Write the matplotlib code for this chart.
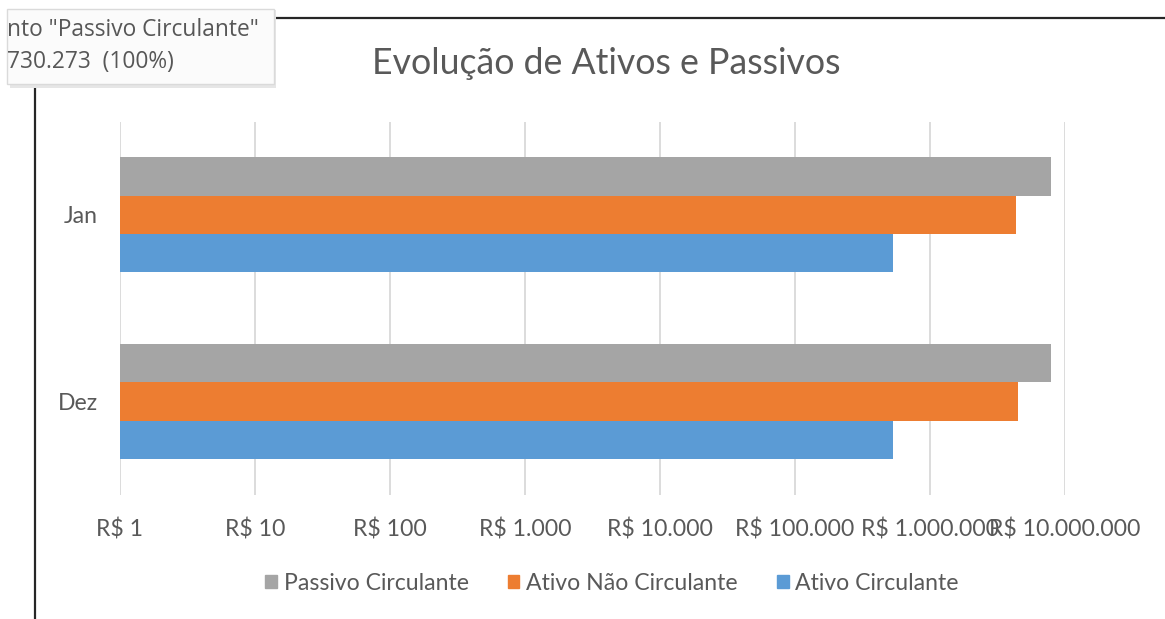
import matplotlib.pyplot as plt
import numpy as np
from matplotlib.patches import Rectangle, Patch
from matplotlib.lines import Line2D

# data
meses = ['Dez', 'Jan']  # bottom to top
ativo_circulante = [530000, 530000]
ativo_nao_circulante = [4450000, 4300000]
passivo_circulante = [7900000, 7900000]

ticks = [1, 10, 100, 1000, 10000, 100000, 1000000, 10000000]
tick_labels = ['R$ 1', 'R$ 10', 'R$ 100', 'R$ 1.000', 'R$ 10.000',
               'R$ 100.000', 'R$ 1.000.000', 'R$ 10.000.000']

AZUL = '#5B9BD5'
LARANJA = '#ED7D31'
CINZA = '#A5A5A5'
TXT = '#595959'

plt.rcParams['font.family'] = ['Lato', 'DejaVu Sans']

W, H = 1165, 619
fig = plt.figure(figsize=(W / 100, H / 100), dpi=100)
ax = fig.add_axes([120 / W, 1 - 494.8 / H, (1065 - 120) / W, (494.8 - 121.5) / H])

y = np.arange(len(meses))
h = 0.206
ax.barh(y - h, ativo_circulante, height=h, color=AZUL, left=1, zorder=3)
ax.barh(y, ativo_nao_circulante, height=h, color=LARANJA, left=1, zorder=3)
ax.barh(y + h, passivo_circulante, height=h, color=CINZA, left=1, zorder=3)

ax.set_xscale('log')
ax.set_xlim(1, 10000000)
ax.set_ylim(-0.5, 1.5)
ax.set_xticks(ticks)
ax.set_xticklabels(tick_labels)
ax.xaxis.set_minor_locator(plt.NullLocator())
ax.set_yticks(y)
ax.set_yticklabels(meses)
ax.grid(axis='x', color='#D9D9D9', lw=1.3, zorder=0)
for s in ax.spines.values():
    s.set_visible(False)
ax.tick_params(axis='x', length=0, pad=17, labelsize=16.6, labelcolor=TXT)
ax.tick_params(axis='y', length=0, pad=16, labelsize=16.6, labelcolor=TXT)

fig.text(606 / W, 1 - 63 / H, 'Evolução de Ativos e Passivos', ha='center',
         va='center', fontsize=25.7, color=TXT)

handles = [Patch(color=CINZA, label='Passivo Circulante'),
           Patch(color=LARANJA, label='Ativo Não Circulante'),
           Patch(color=AZUL, label='Ativo Circulante')]
fig.legend(handles=handles, loc='center', bbox_to_anchor=(612 / W, 1 - 583 / H),
           ncol=3, frameon=False, fontsize=16.6, labelcolor=TXT,
           handlelength=0.5, handleheight=0.5, handletextpad=0.3,
           columnspacing=1.7)

# bordas do grafico (linhas pretas)
fig.add_artist(Line2D([35 / W, 35 / W], [0, 1 - 86 / H], color='#262626',
                      lw=1.6, transform=fig.transFigure))
fig.add_artist(Line2D([274 / W, 1], [1 - 17.5 / H, 1 - 17.5 / H],
                      color='#262626', lw=1.6, transform=fig.transFigure))

# dica de ferramenta (tooltip)
fig.add_artist(Rectangle((10 / W, 1 - 88 / H), 266 / W, 78 / H,
                         facecolor='#E6E6E6', edgecolor='none',
                         transform=fig.transFigure, zorder=4))
fig.add_artist(Rectangle((7 / W, 1 - 84 / H), 267 / W, 75 / H,
                         facecolor='#FBFBFB', edgecolor='#DADADA', lw=1,
                         transform=fig.transFigure, zorder=5))
fig.text(7 / W, 1 - 30 / H, 'nto "Passivo Circulante"', ha='left', va='center',
         fontsize=16.4, color='#575757', family=['Open Sans', 'DejaVu Sans'],
         zorder=6)
fig.text(7 / W, 1 - 62 / H, '730.273  (100%)', ha='left', va='center',
         fontsize=16.4, color='#575757', family=['Open Sans', 'DejaVu Sans'],
         zorder=6)

fig.savefig('out.png', dpi=100)
